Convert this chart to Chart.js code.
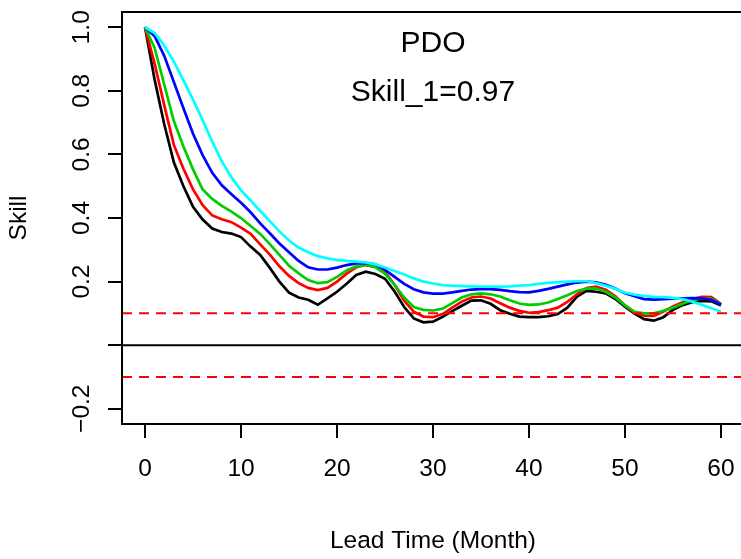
<!DOCTYPE html>
<html>
<head>
<meta charset="utf-8">
<script src="https://cdn.jsdelivr.net/npm/chart.js@4/dist/chart.umd.min.js"></script>
<style>
  html, body { margin: 0; padding: 0; background: #fff; overflow: hidden; }
  canvas { display: block; }
</style>
</head>
<body>
<canvas id="c" width="760" height="559"></canvas>
<script>
// ---- data ----
const leadMonths = [0,1,2,3,4,5,6,7,8,9,10,11,12,13,14,15,16,17,18,19,20,21,22,23,24,25,26,27,28,29,30,
  31,32,33,34,35,36,37,38,39,40,41,42,43,44,45,46,47,48,49,50,51,52,53,54,55,56,57,58,59,60];

const skillBlack = [1.0,0.835,0.695,0.575,0.50,0.435,0.395,0.367,0.356,0.351,0.34,
  0.31,0.284,0.243,0.20,0.165,0.15,0.143,0.127,0.147,0.168,
  0.193,0.221,0.231,0.224,0.209,0.169,0.12,0.084,0.072,0.074,
  0.089,0.107,0.124,0.140,0.141,0.130,0.110,0.099,0.090,0.088,
  0.088,0.091,0.098,0.118,0.153,0.171,0.168,0.163,0.145,0.121,
  0.099,0.082,0.077,0.088,0.111,0.126,0.135,0.139,0.138,0.125];

const skillRed = [1.0,0.885,0.755,0.63,0.555,0.49,0.44,0.408,0.396,0.387,0.37,
  0.35,0.317,0.285,0.248,0.218,0.195,0.18,0.173,0.18,0.20,
  0.225,0.245,0.252,0.247,0.23,0.19,0.14,0.105,0.09,0.088,
  0.098,0.118,0.137,0.15,0.153,0.147,0.132,0.118,0.108,0.102,
  0.104,0.110,0.118,0.136,0.16,0.18,0.184,0.174,0.154,0.125,
  0.103,0.093,0.092,0.106,0.122,0.135,0.145,0.152,0.151,0.13];

const skillGreen = [1.0,0.935,0.82,0.705,0.625,0.553,0.49,0.46,0.438,0.42,0.40,
  0.375,0.35,0.318,0.284,0.25,0.226,0.205,0.195,0.198,0.215,
  0.235,0.248,0.252,0.245,0.225,0.19,0.15,0.12,0.111,0.109,
  0.115,0.132,0.150,0.160,0.163,0.160,0.153,0.141,0.131,0.127,
  0.128,0.134,0.145,0.157,0.170,0.178,0.178,0.168,0.150,0.125,
  0.105,0.100,0.100,0.108,0.118,0.130,0.142,0.147,0.146,0.128];

const skillBlue = [1.0,0.972,0.91,0.828,0.745,0.665,0.598,0.542,0.503,0.475,0.448,
  0.418,0.383,0.352,0.32,0.292,0.265,0.245,0.238,0.238,0.244,
  0.252,0.257,0.258,0.254,0.237,0.215,0.193,0.176,0.166,0.162,
  0.162,0.166,0.171,0.175,0.176,0.176,0.174,0.170,0.167,0.166,
  0.171,0.177,0.184,0.191,0.197,0.200,0.198,0.190,0.178,0.163,
  0.154,0.145,0.143,0.145,0.146,0.147,0.148,0.147,0.143,0.127];

const skillCyan = [1.0,0.982,0.942,0.892,0.833,0.772,0.708,0.64,0.578,0.528,0.487,
  0.455,0.422,0.39,0.358,0.329,0.307,0.292,0.28,0.273,0.268,
  0.265,0.263,0.26,0.254,0.244,0.233,0.222,0.210,0.200,0.194,
  0.189,0.187,0.186,0.185,0.184,0.184,0.184,0.185,0.187,0.189,
  0.193,0.196,0.198,0.200,0.201,0.201,0.195,0.187,0.177,0.165,
  0.159,0.154,0.152,0.151,0.149,0.145,0.137,0.127,0.116,0.106];

const zeroLevel = 0;
const significanceLevels = [0.1, -0.1];

const xTicks = [0,10,20,30,40,50,60];
const yTicks = [-0.2,0,0.2,0.4,0.6,0.8,1.0];
const yTickLabels = ['\u22120.2','','0.2','0.4','0.6','0.8','1.0'];
const xRange = [-2.4, 62.4];
const yRange = [-0.248, 1.048];

const plotTitle = 'PDO';
const plotSubtitle = 'Skill_1=0.97';
const xTitle = 'Lead Time (Month)';
const yTitle = 'Skill';

// ---- chart ----
const FONT = '"Liberation Sans", Arial, Helvetica, sans-serif';
Chart.defaults.font.family = FONT;
Chart.defaults.color = '#000';

const toPts = arr => arr.map((v, i) => ({x: leadMonths[i], y: v}));
const hline = v => [{x: xRange[0], y: v}, {x: xRange[1], y: v}];

const series = [
  {data: skillBlack, color: '#000000', order: 4},
  {data: skillRed,   color: '#FF0000', order: 3},
  {data: skillGreen, color: '#00CD00', order: 2},
  {data: skillBlue,  color: '#0000FF', order: 1},
  {data: skillCyan,  color: '#00FFFF', order: 0}
];

const datasets = series.map(s => ({
  data: toPts(s.data), borderColor: s.color, borderWidth: 2.7,
  pointRadius: 0, tension: 0, fill: false, order: s.order + 10
}));
datasets.push({data: hline(zeroLevel), borderColor: '#000', borderWidth: 2, pointRadius: 0, order: -1});
significanceLevels.forEach(v => datasets.push({
  data: hline(v), borderColor: '#FF0000', borderWidth: 2, borderDash: [10, 7],
  pointRadius: 0, order: -2
}));

const boxAndText = {
  id: 'boxAndText',
  afterDraw(chart) {
    const {ctx, chartArea: a, scales: {y}} = chart;
    ctx.save();
    ctx.strokeStyle = '#000';
    ctx.lineWidth = 2;
    ctx.strokeRect(a.left, a.top, a.right - a.left, a.bottom - a.top);
    ctx.fillStyle = '#000';
    ctx.font = '24.5px ' + FONT;
    ctx.textAlign = 'center';
    ctx.textBaseline = 'alphabetic';
    yTicks.forEach((v, i) => {
      const lab = yTickLabels[i];
      if (!lab) return;
      const py = y.getPixelForValue(v);
      ctx.save();
      ctx.translate(a.left - 33, py);
      ctx.rotate(-Math.PI / 2);
      ctx.fillText(lab, 0, 0);
      ctx.restore();
    });
    const cx = (a.left + a.right) / 2;
    ctx.font = '30px ' + FONT;
    ctx.textBaseline = 'middle';
    ctx.fillText(plotTitle, cx, a.top + 32);
    ctx.fillText(plotSubtitle, cx, a.top + 81);
    ctx.restore();
  }
};

new Chart(document.getElementById('c'), {
  type: 'line',
  data: {datasets},
  options: {
    responsive: false,
    animation: false,
    devicePixelRatio: 1,
    layout: {padding: {top: 12, right: 16, left: 0, bottom: 0}},
    plugins: {legend: {display: false}, tooltip: {enabled: false}},
    scales: {
      x: {
        type: 'linear', min: xRange[0], max: xRange[1],
        afterBuildTicks: s => { s.ticks = xTicks.map(v => ({value: v})); },
        afterFit: s => { s.height = 135; },
        grid: {drawOnChartArea: false, drawTicks: true, tickLength: 14, color: '#000', lineWidth: 2},
        border: {display: true, color: '#000', width: 2},
        ticks: {font: {size: 24.5, lineHeight: 1}, padding: 18.5, color: '#000', maxRotation: 0, autoSkip: false},
        title: {display: true, text: xTitle, font: {size: 24.5, lineHeight: 1}, padding: {top: 0, bottom: 6}, color: '#000'}
      },
      y: {
        type: 'linear', min: yRange[0], max: yRange[1],
        afterBuildTicks: s => { s.ticks = yTicks.map(v => ({value: v})); },
        afterFit: s => { s.width = 122; },
        grid: {drawOnChartArea: false, drawTicks: true, tickLength: 14, color: '#000', lineWidth: 2},
        border: {display: true, color: '#000', width: 2},
        ticks: {display: false},
        title: {display: true, text: yTitle, font: {size: 24.5, lineHeight: 1}, padding: {top: 7, bottom: 0}, color: '#000'}
      }
    }
  },
  plugins: [boxAndText]
});
</script>
</body>
</html>
